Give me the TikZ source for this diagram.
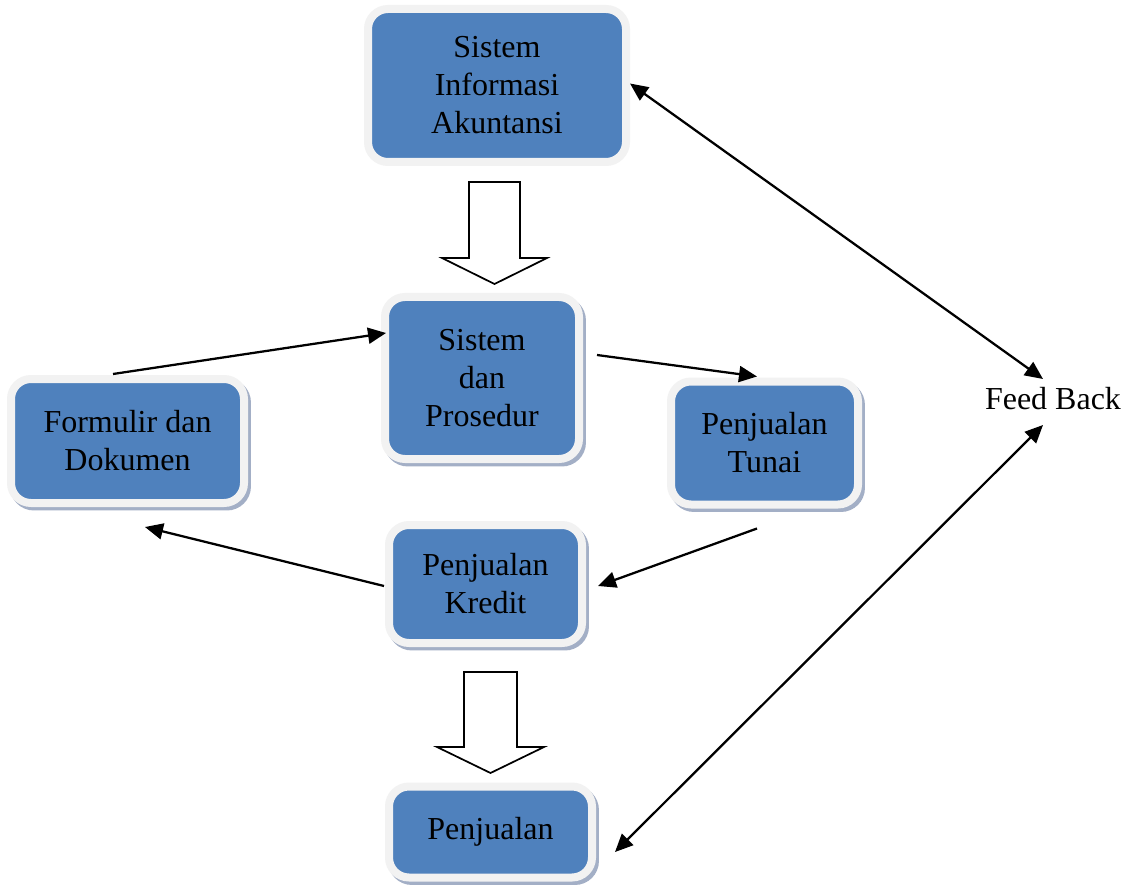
\documentclass[tikz,border=0pt]{standalone}
\usepackage{fontspec}
\setmainfont{Liberation Serif}
\usetikzlibrary{arrows.meta,calc}
\definecolor{boxblue}{HTML}{4F81BD}
\definecolor{bordergray}{HTML}{F2F2F2}
\definecolor{shadowc}{HTML}{A3AFC6}
\tikzset{
  boxbase/.style={rectangle, rounded corners=15pt, fill=boxblue, draw=bordergray,
    line width=6pt, inner sep=0pt, align=center,
    font=\fontsize{24}{28.5}\selectfont},
  boxshadow/.style={boxbase, preaction={draw=shadowc, fill=shadowc, line width=6pt,
    transform canvas={xshift=2.2pt,yshift=-2.6pt}}},
  tip/.style={Triangle[length=13.5pt,width=12pt]},
  conn/.style={line width=1.7pt, -{Triangle[length=13.5pt,width=12pt]}},
  dconn/.style={line width=1.7pt, {Triangle[length=13.5pt,width=12pt]}-{Triangle[length=13.5pt,width=12pt]}},
  blockarrow/.style={draw=black, fill=white, line width=1.3pt, line join=miter}
}
\begin{document}
\begin{tikzpicture}[x=0.75pt,y=-0.75pt]
\useasboundingbox[fill=white] (0,0) rectangle (1129,888);

\node[boxbase, minimum width=258*0.75pt, minimum height=153*0.75pt] (sia) at (497,85.5) {Sistem\\Informasi\\Akuntansi};
\node[boxshadow, minimum width=194*0.75pt, minimum height=162*0.75pt] (sdp) at (482,378) {Sistem\\dan\\Prosedur};
\node[boxshadow, minimum width=233*0.75pt, minimum height=124*0.75pt] (fd) at (127.5,441) {Formulir dan\\Dokumen};
\node[boxshadow, minimum width=187*0.75pt, minimum height=123*0.75pt] (pt) at (764.5,443) {Penjualan\\Tunai};
\node[boxshadow, minimum width=193*0.75pt, minimum height=118*0.75pt] (pk) at (485.5,584) {Penjualan\\Kredit};
\node[boxshadow, minimum width=203*0.75pt, minimum height=91*0.75pt] (pj) at (490.5,832) {Penjualan};
\node[font=\fontsize{24}{28.5}\selectfont, inner sep=0pt] (fb) at (1053,399) {Feed Back};

% block arrows
\draw[blockarrow] (469,182) -- (520,182) -- (520,258) -- (547,258) -- (494.5,284)
  -- (442,258) -- (469,258) -- cycle;
\draw[blockarrow] (464,672) -- (517,672) -- (517,747) -- (544,747) -- (490.5,773)
  -- (437,747) -- (464,747) -- cycle;

% connectors
\draw[conn] ($(fd.north)+(-14.5,-1)$) -- ($(sdp.west)+(5,-45)$);
\draw[conn] ($(sdp.east)+(14,-23)$) -- ($(pt.north)+(-7.5,-1)$);
\draw[conn] ($(pt.south)+(-7.5,20)$) -- ($(pk.east)+(12,2)$);
\draw[conn] ($(pk.west)+(-1,2)$) -- ($(fd.south)+(17.5,20)$);
\draw[dconn] ($(sia.east)+(0,-2)$) -- ($(fb)+(-10,-20)$);
\draw[dconn] ($(pj.east)+(19,20)$) -- ($(fb)+(-10,26)$);
\end{tikzpicture}
\end{document}
